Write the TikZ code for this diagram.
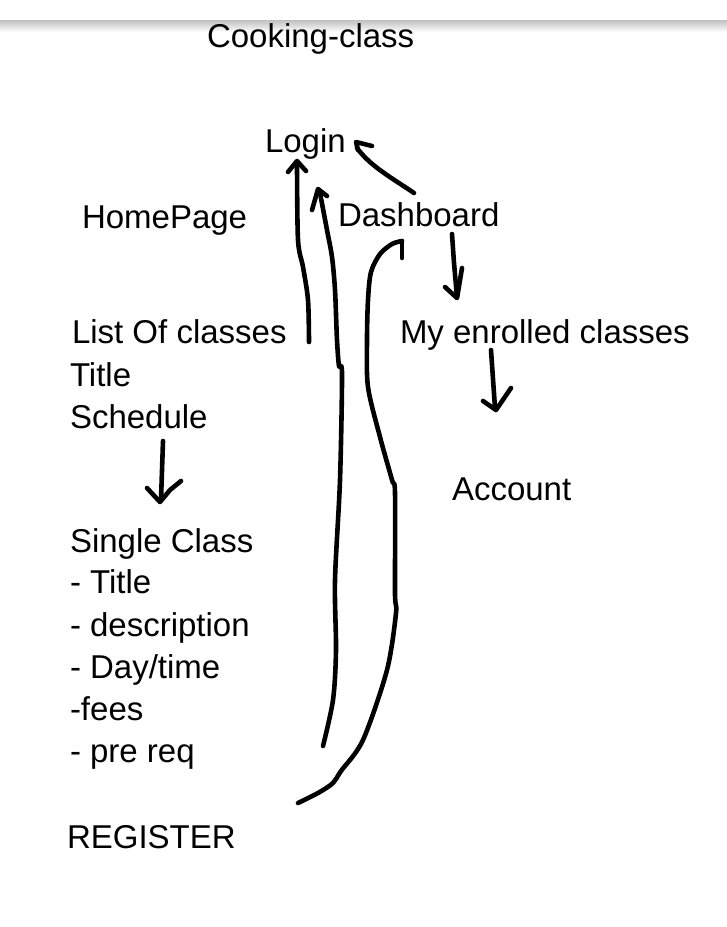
\documentclass[tikz,border=0pt]{standalone}
\usepackage{fontspec}
\setmainfont{Liberation Sans}
\begin{document}
\begin{tikzpicture}[x=1pt,y=-1pt,
  lbl/.style={anchor=base west,inner sep=0pt,outer sep=0pt,font=\fontsize{33}{40}\selectfont},
  ink/.style={line width=4.6pt,line cap=round,line join=round,black}]
\useasboundingbox (0,0) rectangle (727,927);
\fill[white] (0,0) rectangle (727,927);
\shade[top color=black!25,bottom color=white] (0,20) rectangle (727,32);

% texts
\node[lbl] (title) at (207,47) {Cooking-class};
\node[lbl] (login) at (265,152) {Login};
\node[lbl] (home) at (82,228) {HomePage};
\node[lbl] (dash) at (338,226) {Dashboard};
\node[lbl] (list) at (72,343) {List Of classes};
\node[lbl] (ltitle) at (70,386) {Title};
\node[lbl] (sched) at (70,428) {Schedule};
\node[lbl] (enrol) at (400,343) {My enrolled classes};
\node[lbl] (acct) at (452,500) {Account};
\node[lbl] (single) at (70,552) {Single Class};
\node[lbl] (stitle) at (70,593) {- Title};
\node[lbl] (sdesc) at (70,636) {- description};
\node[lbl] (sday) at (70,678) {- Day/time};
\node[lbl] (sfees) at (70,720) {-fees};
\node[lbl] (sreq) at (70,762) {- pre req};
\node[lbl] (reg) at (67,848) {REGISTER};

% arrow: list of classes -> login
\draw[ink] plot[smooth] coordinates {(309,342) (308,300) (303,267) (298,240) (297,163)};
\draw[ink] (288,172) -- (297,161) -- (306,171);

% arrow: single class -> login
\draw[ink] plot[smooth] coordinates {(323,746) (333,700) (336,650) (335,580) (340,480) (342,374) (339,366) (337,340) (335,290) (332,257) (327,230) (320,193)};
\draw[ink] (312,210) -- (318,189) -- (327,196);

% arrow: register -> dashboard
\draw[ink] plot[smooth] coordinates {(298,803) (318,793) (333,783) (341,771) (363,740) (387,670) (396,613) (395,593) (395,493) (392,480) (380,437) (368,387) (367,340) (368,300) (371,272) (380,254) (392,244) (402,241)};
\draw[ink] (402,241) -- (402,258);

% arrow: dashboard -> login
\draw[ink] (414,193) .. controls (392,178) and (370,166) .. (357,148);
\draw[ink] (372,146) -- (356,142) -- (358,150);

% arrow: dashboard -> my enrolled classes
\draw[ink] (452,234) -- (454,263) -- (457,297);
\draw[ink] (445,287) -- (457,298) -- (462,268);

% arrow: my enrolled classes -> account
\draw[ink] (491,350) -- (495,408);
\draw[ink] (483,401) -- (496,410) -- (511,388);

% arrow: list -> single class
\draw[ink] (163,441) -- (161,500);
\draw[ink] (147,488) -- (160,502) -- (170,490) -- (181,481);
\end{tikzpicture}
\end{document}
